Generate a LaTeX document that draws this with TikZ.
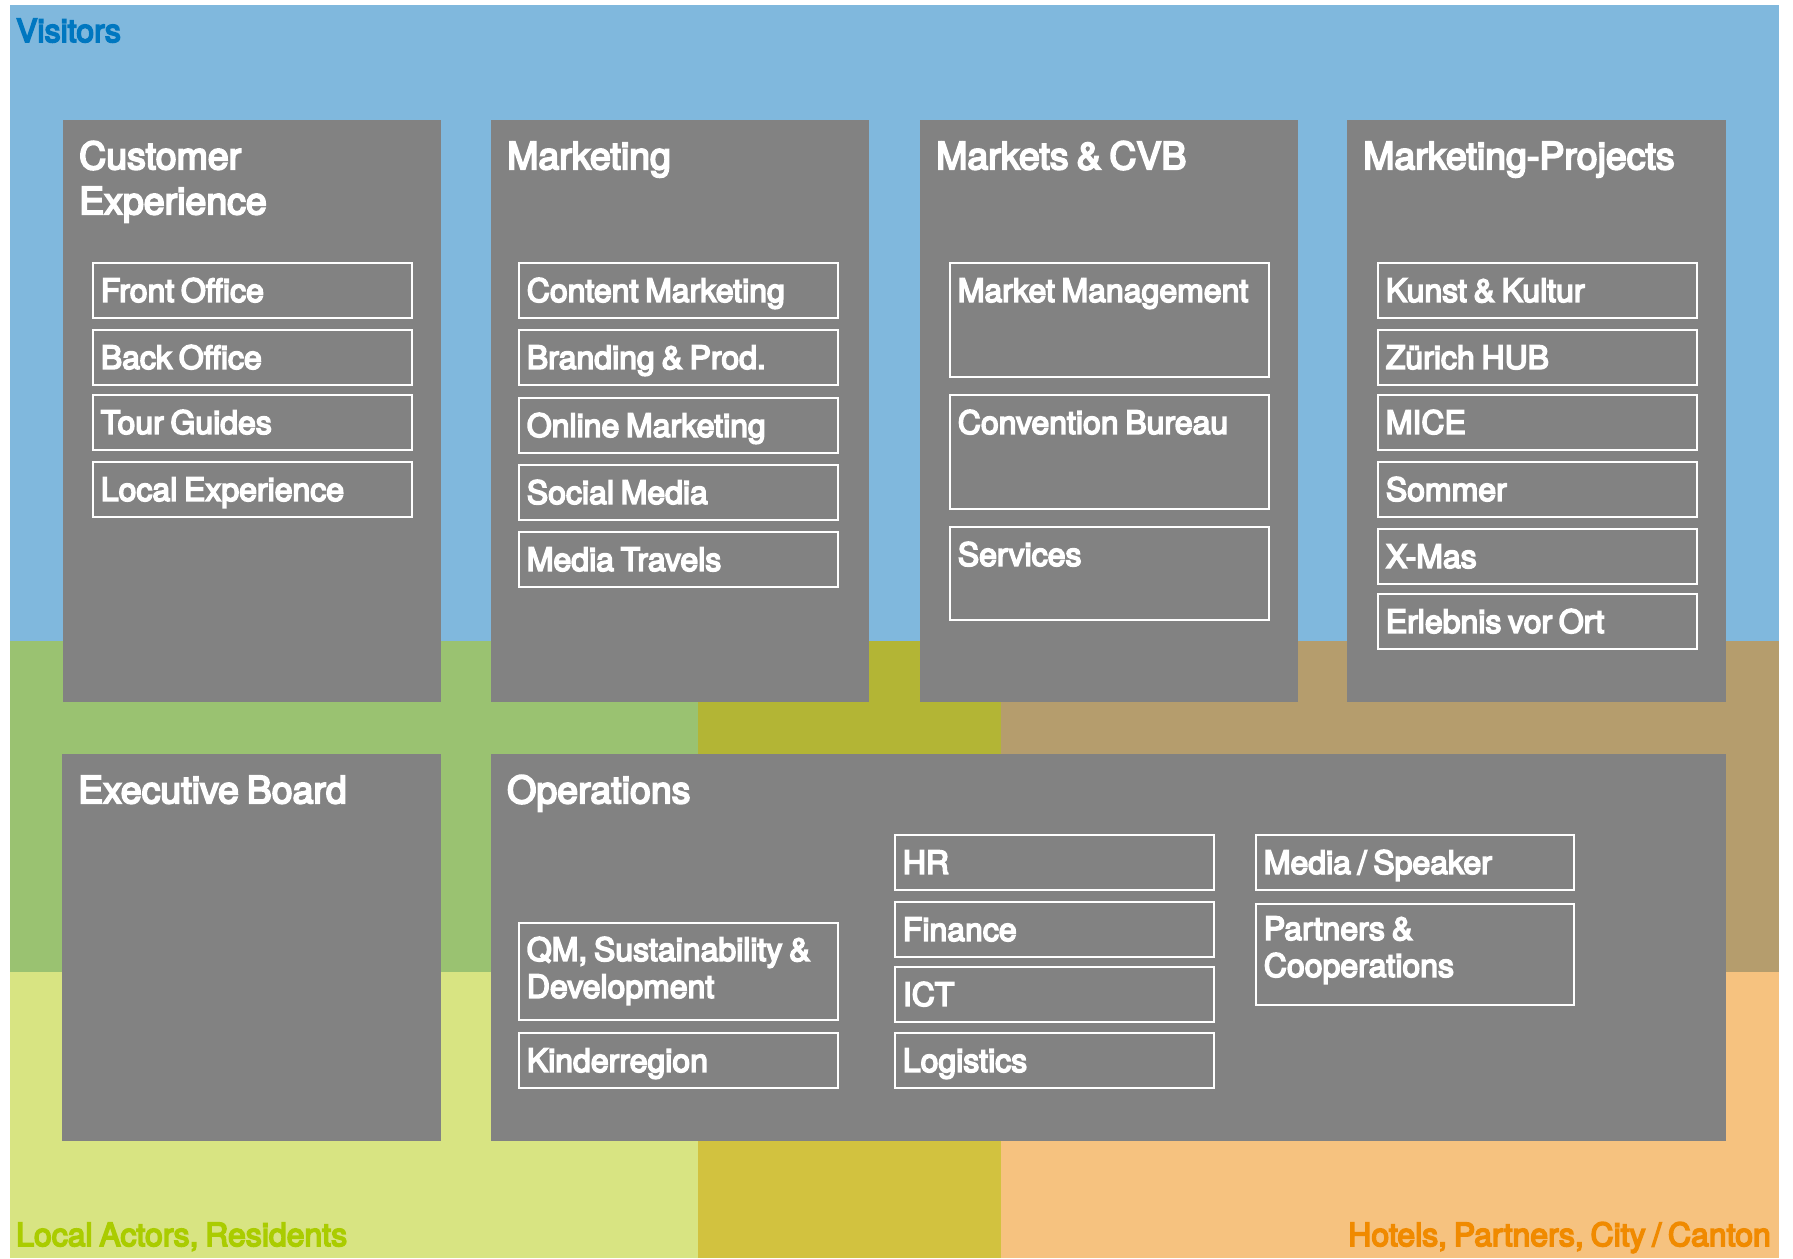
\documentclass[tikz,border=0pt]{standalone}
\usepackage{fontspec}
\setmainfont{TeX Gyre Heros}[FakeBold=5]
\newcommand{\tightspace}{\spaceskip=0.21em plus 0.05em minus 0.03em\relax}

\definecolor{visitorsblue}{HTML}{80B8DD}
\definecolor{visitorstext}{HTML}{0077C0}
\definecolor{residentsgreen}{HTML}{9AC271}
\definecolor{residentslight}{HTML}{D8E482}
\definecolor{residentstext}{HTML}{AACC00}
\definecolor{sharedolive}{HTML}{B3B535}
\definecolor{sharedmustard}{HTML}{D2C23F}
\definecolor{partnerstan}{HTML}{B59D6D}
\definecolor{partnersorange}{HTML}{F6C27F}
\definecolor{partnerstext}{HTML}{F08A00}
\definecolor{unitgray}{HTML}{828282}

\tikzset{
    unit/.style={fill=unitgray, anchor=north west, inner xsep=16pt, inner ysep=0pt,
        text=white, align=left, text width=346pt, text height=49pt,
        font=\fontsize{37.5}{45}\selectfont, execute at begin node=\tightspace},
    subunit/.style={draw=white, line width=1.7pt, anchor=north west, inner xsep=8pt, inner ysep=0pt,
        text=white, align=left, text width=303pt, text height=39pt, text depth=16pt,
        font=\fontsize{32}{37}\selectfont, execute at begin node=\tightspace},
    area/.style={inner sep=0pt, font=\fontsize{32}{38}\selectfont, execute at begin node=\tightspace}
}

\begin{document}
\begin{tikzpicture}[x=1pt, y=-1pt]
    \useasboundingbox (0,0) rectangle (1793,1258);
    %areas
    \fill[visitorsblue] (10,5) rectangle (1779,641);
    \fill[residentsgreen] (10,641) rectangle (698,972);
    \fill[sharedolive] (698,641) rectangle (1001,972);
    \fill[partnerstan] (1001,641) rectangle (1779,972);
    \fill[residentslight] (10,972) rectangle (698,1258);
    \fill[sharedmustard] (698,972) rectangle (1001,1258);
    \fill[partnersorange] (1001,972) rectangle (1779,1258);
    \node[area, text=visitorstext, anchor=base west] (visitors) at (16,42) {Visitors};
    \node[area, text=residentstext, anchor=base west] (residents) at (16,1246) {Local Actors, Residents};
    \node[area, text=partnerstext, anchor=base east] (partners) at (1771,1246) {Hotels, Partners, City / Canton};
    %units
    \node[unit, text depth=533pt] (cx) at (63,120) {Customer\\Experience};
    \node[unit, text depth=533pt] (mkt) at (491,120) {Marketing};
    \node[unit, text depth=533pt] (cvb) at (920,120) {Markets \& CVB};
    \node[unit, text width=347pt, text depth=533pt] (proj) at (1347,120) {Marketing-Projects};
    \node[unit, text width=347pt, text depth=338pt] (board) at (62,754) {Executive Board};
    \node[unit, text width=1203pt, text depth=338pt] (ops) at (491,754) {Operations};
    %customer experience
    \node[subunit] (frontoffice) at (92,262) {Front Office};
    \node[subunit] (backoffice) at (92,329) {Back Office};
    \node[subunit] (tourguides) at (92,394) {Tour Guides};
    \node[subunit] (localexp) at (92,461) {Local Experience};
    %marketing
    \node[subunit] (content) at (518,262) {Content Marketing};
    \node[subunit] (branding) at (518,329) {Branding \& Prod.};
    \node[subunit] (online) at (518,397) {Online Marketing};
    \node[subunit] (social) at (518,464) {Social Media};
    \node[subunit] (mediatravels) at (518,531) {Media Travels};
    %markets
    \node[subunit, text depth=75pt] (marketmgmt) at (949,262) {Market Management};
    \node[subunit, text depth=75pt] (convention) at (949,394) {Convention Bureau};
    \node[subunit, text depth=54pt] (services) at (949,526) {Services};
    %projects
    \node[subunit] (kunst) at (1377,262) {Kunst \& Kultur};
    \node[subunit] (hub) at (1377,329) {Zürich HUB};
    \node[subunit] (mice) at (1377,394) {MICE};
    \node[subunit] (sommer) at (1377,461) {Sommer};
    \node[subunit] (xmas) at (1377,528) {X-Mas};
    \node[subunit] (erlebnis) at (1377,593) {Erlebnis vor Ort};
    %operations
    \node[subunit, text height=38pt, text depth=59pt] (qm) at (518,922) {QM, Sustainability \&\\Development};
    \node[subunit] (kinder) at (518,1032) {Kinderregion};
    \node[subunit] (hr) at (894,834) {HR};
    \node[subunit] (finance) at (894,901) {Finance};
    \node[subunit] (ict) at (894,966) {ICT};
    \node[subunit] (logistics) at (894,1032) {Logistics};
    \node[subunit, text width=302pt] (speaker) at (1255,834) {Media / Speaker};
    \node[subunit, text width=302pt, text height=36pt, text depth=65pt] (coop) at (1255,903) {Partners \&\\Cooperations};
\end{tikzpicture}
\end{document}
